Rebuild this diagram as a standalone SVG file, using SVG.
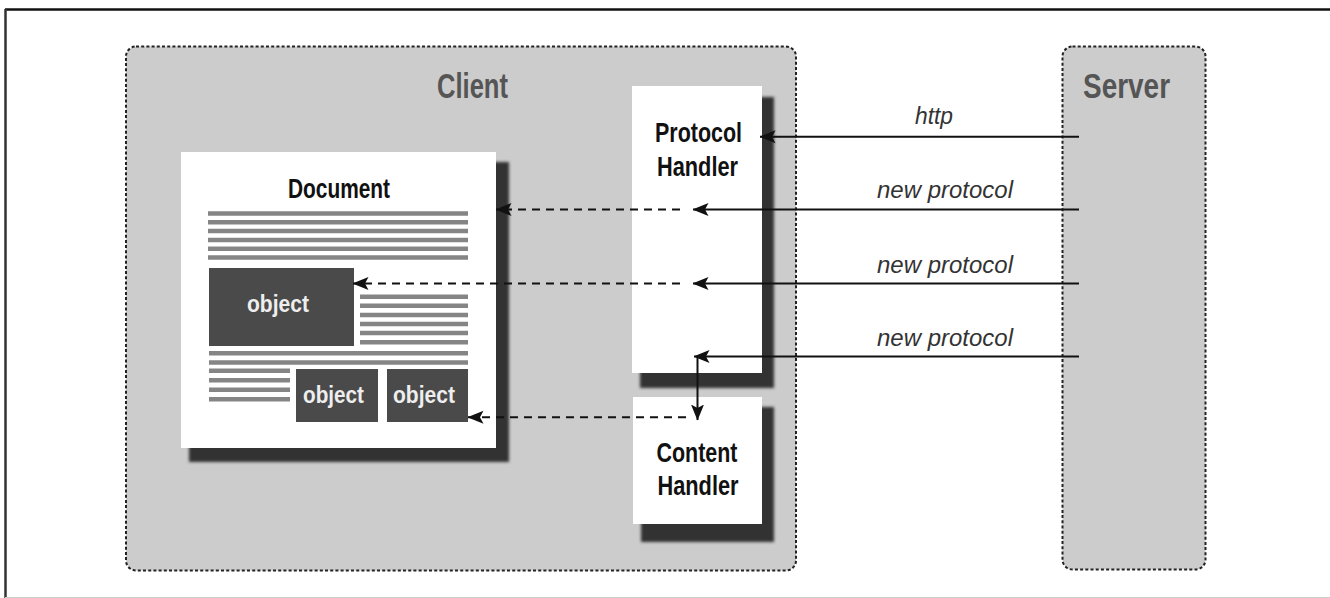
<svg xmlns="http://www.w3.org/2000/svg" width="1330" height="598" viewBox="0 0 1330 598">
<style>
.zone{fill:#cccccc;stroke:#222;stroke-width:2;stroke-dasharray:3 2.2}
.title{font-family:"Liberation Sans",Arial,sans-serif;font-weight:bold;font-size:35px;fill:#555}
.lbl{font-family:"Liberation Sans",Arial,sans-serif;font-weight:bold;font-size:28px;fill:#111}
.obj{fill:#4a4a4a}
.objt{font-family:"Liberation Sans",Arial,sans-serif;font-weight:bold;font-size:23px;fill:#eeeeee}
.box{fill:#ffffff}
.shadow{fill:#333;filter:url(#blur)}
.ln{stroke:#858585;stroke-width:4.5}
.it{font-family:"Liberation Sans",Arial,sans-serif;font-style:italic;font-size:23px;fill:#333}
.solid{stroke:#111;stroke-width:2;fill:none}
.dash{stroke:#111;stroke-width:2;fill:none;stroke-dasharray:8 6}
</style>
<defs>
<filter id="blur" x="-10%" y="-10%" width="120%" height="120%"><feGaussianBlur stdDeviation="1.8"/></filter>
<marker id="ah" viewBox="0 0 16 14" markerWidth="16" markerHeight="14" refX="15.5" refY="7" orient="auto" markerUnits="userSpaceOnUse">
<path d="M16,7 L0,0.5 L3.5,7 L0,13.5 Z" fill="#111"/>
</marker>
</defs>
<rect width="1330" height="598" fill="#ffffff"/>
<g id="frame">
<line x1="5" y1="9.5" x2="1330" y2="9.5" stroke="#111" stroke-width="2.5"/>
<line x1="5.5" y1="9" x2="5.5" y2="598" stroke="#333" stroke-width="2.5"/>
<line x1="5" y1="597.5" x2="1330" y2="597.5" stroke="#ccc" stroke-width="1"/>
</g>
<g id="client">
<rect class="zone" x="126" y="46.5" width="670" height="524" rx="10"/>
<text class="title" x="437" y="98" textLength="71" lengthAdjust="spacingAndGlyphs">Client</text>
</g>
<g id="server">
<rect class="zone" x="1062.5" y="46.5" width="143" height="523" rx="10"/>
<text class="title" x="1083" y="98" textLength="87" lengthAdjust="spacingAndGlyphs">Server</text>
</g>
<g id="document">
<rect class="shadow" x="189" y="162" width="320" height="300"/>
<rect class="box" x="181" y="152" width="315" height="296"/>
<text class="lbl" x="288" y="198" textLength="102" lengthAdjust="spacingAndGlyphs">Document</text>
<g class="ln">
<line x1="208" y1="213.5" x2="468" y2="213.5"/>
<line x1="208" y1="222.3" x2="468" y2="222.3"/>
<line x1="208" y1="231.1" x2="468" y2="231.1"/>
<line x1="208" y1="239.9" x2="468" y2="239.9"/>
<line x1="208" y1="248.7" x2="468" y2="248.7"/>
<line x1="208" y1="257.5" x2="468" y2="257.5"/>
<line x1="360" y1="296.7" x2="468" y2="296.7"/>
<line x1="360" y1="305.8" x2="468" y2="305.8"/>
<line x1="360" y1="314.9" x2="468" y2="314.9"/>
<line x1="360" y1="324" x2="468" y2="324"/>
<line x1="360" y1="333.1" x2="468" y2="333.1"/>
<line x1="360" y1="342.2" x2="468" y2="342.2"/>
<line x1="209" y1="353.3" x2="468" y2="353.3"/>
<line x1="209" y1="362.6" x2="468" y2="362.6"/>
<line x1="209" y1="370.8" x2="290" y2="370.8"/>
<line x1="209" y1="380.3" x2="290" y2="380.3"/>
<line x1="209" y1="389.8" x2="290" y2="389.8"/>
<line x1="209" y1="399.3" x2="290" y2="399.3"/>
</g>
</g>
<g id="object1">
<rect class="obj" x="209" y="268" width="145" height="78"/>
<text class="objt" x="247" y="311.5" textLength="62" lengthAdjust="spacingAndGlyphs">object</text>
</g>
<g id="object2">
<rect class="obj" x="296" y="369" width="82" height="53"/>
<text class="objt" x="303" y="403" textLength="61" lengthAdjust="spacingAndGlyphs">object</text>
</g>
<g id="object3">
<rect class="obj" x="387" y="369" width="81" height="53"/>
<text class="objt" x="393" y="403" textLength="62" lengthAdjust="spacingAndGlyphs">object</text>
</g>
<g id="protocol-handler">
<rect class="shadow" x="640" y="97" width="134" height="291"/>
<rect class="box" x="632" y="86" width="130" height="287"/>
<text class="lbl" x="655" y="141.5" textLength="87" lengthAdjust="spacingAndGlyphs">Protocol</text>
<text class="lbl" x="657" y="176" textLength="81" lengthAdjust="spacingAndGlyphs">Handler</text>
</g>
<g id="content-handler">
<rect class="shadow" x="641" y="407" width="133" height="135"/>
<rect class="box" x="633" y="397" width="129" height="127"/>
<text class="lbl" x="656.5" y="461.5" textLength="81" lengthAdjust="spacingAndGlyphs">Content</text>
<text class="lbl" x="657.5" y="495" textLength="81" lengthAdjust="spacingAndGlyphs">Handler</text>
</g>
<g id="connectors">
<line class="solid" x1="1079" y1="136.7" x2="760" y2="136.7" marker-end="url(#ah)"/>
<line class="solid" x1="1079" y1="209.5" x2="693" y2="209.5" marker-end="url(#ah)"/>
<line class="dash" x1="680" y1="209.5" x2="496" y2="209.5" marker-end="url(#ah)"/>
<line class="solid" x1="1079" y1="283.5" x2="693" y2="283.5" marker-end="url(#ah)"/>
<line class="dash" x1="680" y1="283.5" x2="353" y2="283.5" marker-end="url(#ah)"/>
<line class="solid" x1="1079" y1="356.5" x2="694" y2="356.5" marker-end="url(#ah)"/>
<line class="solid" x1="697.5" y1="356.5" x2="697.5" y2="420" marker-end="url(#ah)"/>
<line class="dash" x1="686" y1="417.3" x2="468" y2="417.3" marker-end="url(#ah)"/>
<text class="it" x="915" y="124" textLength="38" lengthAdjust="spacingAndGlyphs">http</text>
<text class="it" x="877" y="198.3" textLength="136" lengthAdjust="spacingAndGlyphs">new protocol</text>
<text class="it" x="877" y="273" textLength="136" lengthAdjust="spacingAndGlyphs">new protocol</text>
<text class="it" x="877" y="345.5" textLength="136" lengthAdjust="spacingAndGlyphs">new protocol</text>
</g>
</svg>
